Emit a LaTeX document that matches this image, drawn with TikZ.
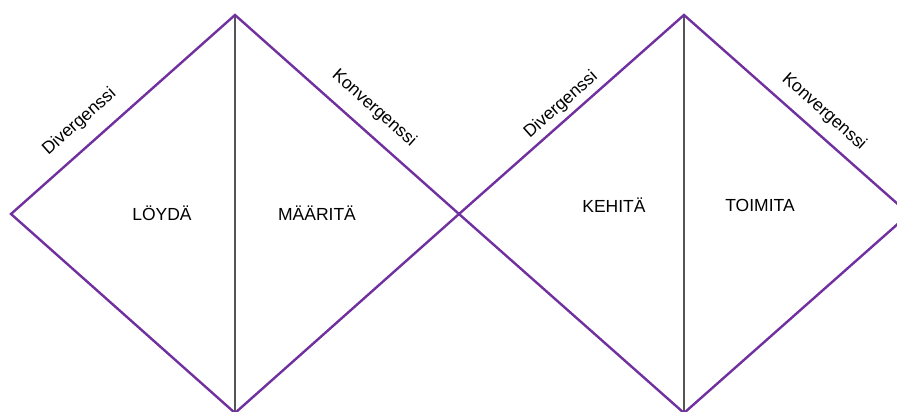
\documentclass[tikz,border=0pt]{standalone}
\usepackage{fontspec}
\newfontfamily\labfont{Liberation Sans}
\definecolor{dpurple}{RGB}{112,48,160}
\definecolor{vgray}{RGB}{85,85,85}
\tikzset{
  edge/.style={draw=dpurple,line width=2.4pt,line join=miter},
  divider/.style={draw=vgray,line width=1.2pt},
  phase/.style={font=\labfont\fontsize{17.5}{20}\selectfont,inner sep=0pt,text=black},
  side/.style={font=\labfont\fontsize{17.5}{20}\selectfont,inner sep=0pt,text=black}
}
\begin{document}
\begin{tikzpicture}[x=1pt,y=-1pt]
\useasboundingbox (0,0) rectangle (897,412);
\clip (0,0) rectangle (897,412);
\coordinate (L1) at (11,214);
\coordinate (T1) at (235,15);
\coordinate (C) at (459,214);
\coordinate (B1) at (235,413);
\coordinate (T2) at (684,15);
\coordinate (R2) at (909,214);
\coordinate (B2) at (684,413);
\draw[divider] (T1) -- (B1);
\draw[divider] (T2) -- (B2);
\draw[edge] (B1) -- (L1) -- (T1) -- (C) -- (B1) -- cycle;
\draw[edge] (C) -- (T2) -- (R2) -- (B2) -- cycle;
\node[phase] (loyda) at (162,213.5) {LÖYDÄ};
\node[phase] (maarita) at (317,213.5) {MÄÄRITÄ};
\node[phase] (kehita) at (614,205.5) {KEHITÄ};
\node[phase] (toimita) at (760,205.5) {TOIMITA};
\node[side,rotate=41.6] (div1) at (79.5,122) {Divergenssi};
\node[side,rotate=-41.6] (kon1) at (374,108.5) {Konvergenssi};
\node[side,rotate=41.6] (div2) at (561,105) {Divergenssi};
\node[side,rotate=-41.6] (kon2) at (824,112) {Konvergenssi};
\end{tikzpicture}
\end{document}
